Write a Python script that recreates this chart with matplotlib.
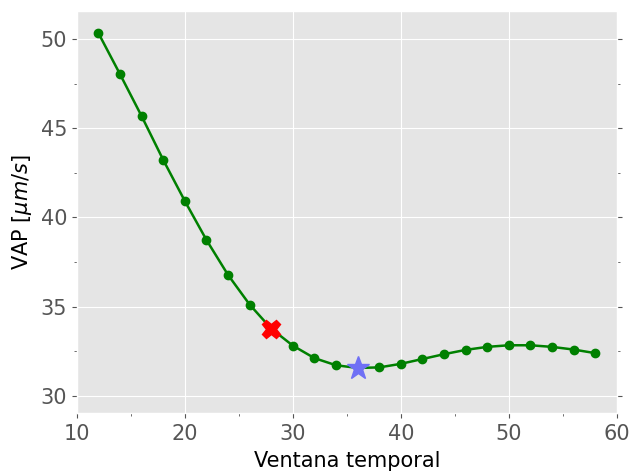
import matplotlib
matplotlib.use('Agg')
import matplotlib.pyplot as plt
import numpy as np
from matplotlib.ticker import MultipleLocator

plt.style.use('ggplot')

ventana = [12, 14, 16, 18, 20, 22, 24, 26, 28, 30, 32, 34, 36, 38, 40,
           42, 44, 46, 48, 50, 52, 54, 56, 58]
vap = [50.32, 48.02, 45.67, 43.22, 40.92, 38.74, 36.78, 35.12, 33.77, 32.82,
       32.12, 31.72, 31.57, 31.60, 31.80, 32.07, 32.34, 32.58, 32.75, 32.84,
       32.84, 32.75, 32.60, 32.40]
x_cruz = 28
y_cruz = 33.77
x_estrella = 36
y_estrella = 31.57

fig, ax = plt.subplots(figsize=(6.3, 4.73), dpi=100)
ax.plot(ventana, vap, color='green', marker='o', markersize=6, linewidth=1.8)
ax.plot(x_cruz, y_cruz, marker='X', color='red', markersize=13, linestyle='none')
ax.plot(x_estrella, y_estrella, marker='*', color='#6f70f5', markersize=17,
        linestyle='none')

ax.set_xlim(10, 60)
ax.set_ylim(29.05, 51.57)
ax.xaxis.set_major_locator(MultipleLocator(10))
ax.xaxis.set_minor_locator(MultipleLocator(5))
ax.yaxis.set_major_locator(MultipleLocator(5))
ax.yaxis.set_minor_locator(MultipleLocator(2.5))
ax.tick_params(axis='y', which='both', left=True, right=True)
ax.tick_params(which='both', labelsize=15)
ax.tick_params(axis='x', which='major', pad=4.5)
ax.grid(which='minor', visible=False)

ax.set_xlabel('Ventana temporal', fontsize=15, color='black', labelpad=5)
ax.set_ylabel(r'VAP [$\mu m/s$]', fontsize=15, color='black', labelpad=5)

plt.subplots_adjust(left=0.122, right=0.979, top=0.977, bottom=0.127)
plt.savefig('out.png')
